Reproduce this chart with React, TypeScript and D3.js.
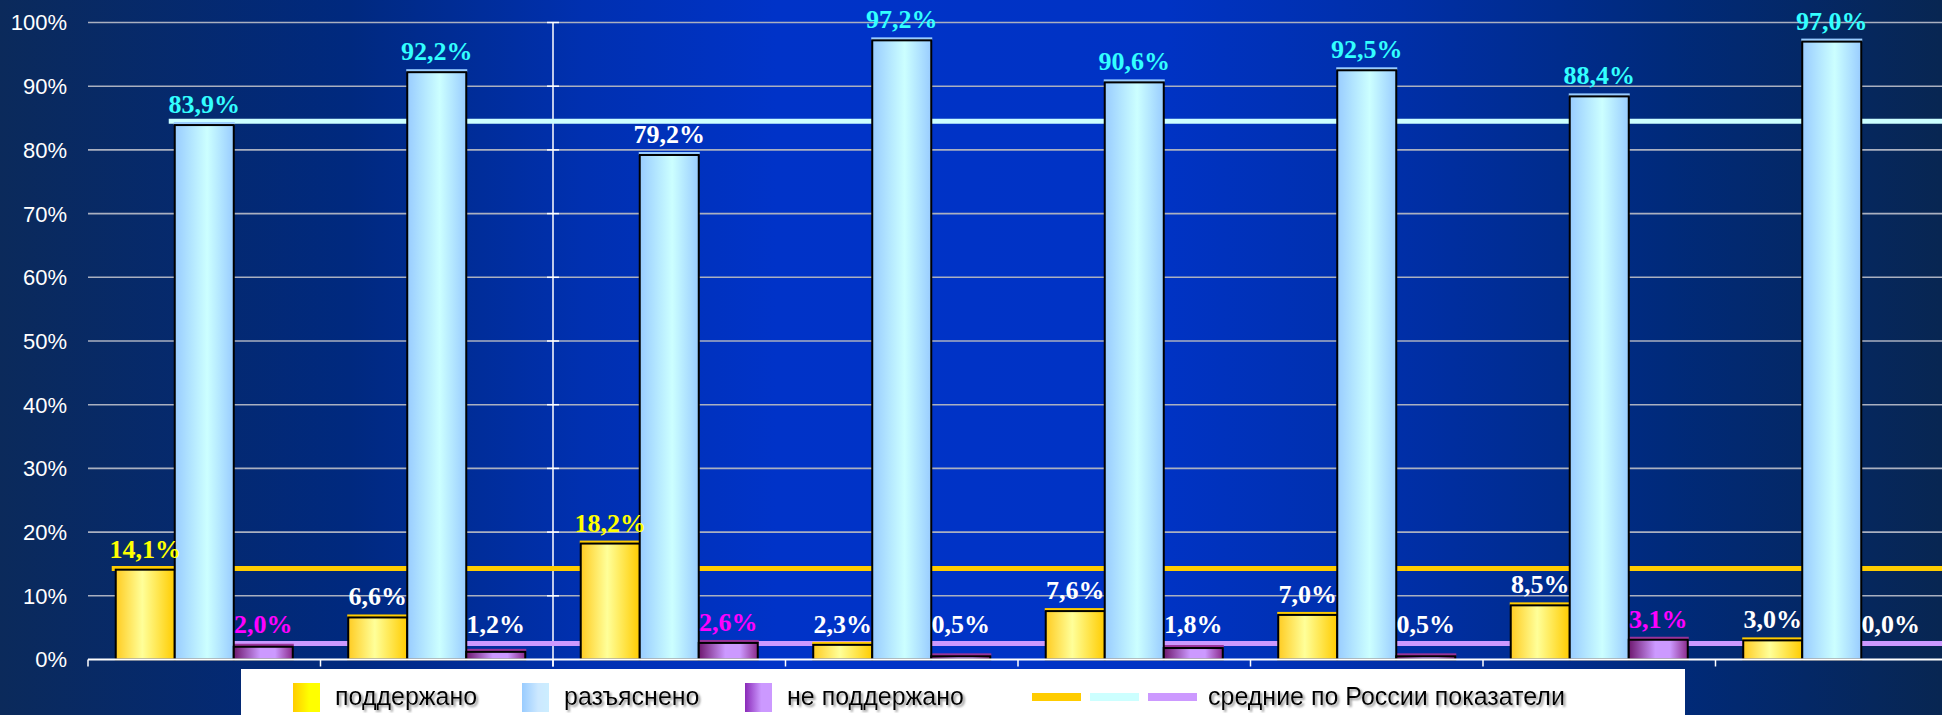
import { useEffect, useRef } from "react";
import * as d3 from "d3";

// categories have no visible names in the chart
const categories = ["1", "2", "3", "4", "5", "6", "7", "8"];
const seriesNames = ["поддержано", "разъяснено", "не поддержано"];
const supported = [14.1, 6.6, 18.2, 2.3, 7.6, 7.0, 8.5, 3.0];
const explained = [83.9, 92.2, 79.2, 97.2, 90.6, 92.5, 88.4, 97.0];
const notSupported = [2.0, 1.2, 2.6, 0.5, 1.8, 0.5, 3.1, 0.0];
const russiaAverage = [14.3, 84.5, 2.5];
const averageLabel = "средние по России показатели";
const yTicks = [0, 10, 20, 30, 40, 50, 60, 70, 80, 90, 100];

// label colours (highlighted values)
const supportedLabelColor = ["#ffff00", "#fff", "#ffff00", "#fff", "#fff", "#fff", "#fff", "#fff"];
const explainedLabelColor = ["#33ffff", "#33ffff", "#fff", "#33ffff", "#33ffff", "#33ffff", "#33ffff", "#33ffff"];
const notSupportedLabelColor = ["#ff00ff", "#fff", "#ff00ff", "#fff", "#fff", "#fff", "#ff00ff", "#fff"];

const WIDTH = 1942;
const HEIGHT = 715;

const fmt = (v: number) => v.toFixed(1).replace(".", ",") + "%";

export default function App() {
  const svgRef = useRef<SVGSVGElement>(null);

  useEffect(() => {
    document.body.style.margin = "0";
    document.body.style.overflow = "hidden";
    if (!svgRef.current) return;
    const svg = d3.select(svgRef.current);
    svg.selectAll("*").remove();

    const defs = svg.append("defs");
    const grad = (id: string, stops: [number, string][]) => {
      const g = defs
        .append("linearGradient")
        .attr("id", id)
        .attr("x1", "0")
        .attr("x2", "1")
        .attr("y1", "0")
        .attr("y2", "0");
      stops.forEach(([o, c]) => g.append("stop").attr("offset", o).attr("stop-color", c));
    };
    grad("bg", [
      [0, "#0b2a5b"],
      [0.18, "#00297f"],
      [0.3, "#0030b0"],
      [0.4, "#0033c8"],
      [0.6, "#0033c4"],
      [0.72, "#002fa8"],
      [0.86, "#002a7a"],
      [1, "#082652"],
    ]);
    grad("g0", [
      [0, "#ffcc22"],
      [0.45, "#ffff99"],
      [1, "#ffcc00"],
    ]);
    grad("g1", [
      [0, "#99ccff"],
      [0.55, "#ccffff"],
      [1, "#99ccff"],
    ]);
    grad("g2", [
      [0, "#6e186e"],
      [0.45, "#cc99ff"],
      [0.7, "#cc99ff"],
      [1, "#8a2a8a"],
    ]);
    grad("s0", [
      [0, "#ffcc00"],
      [0.6, "#ffff00"],
      [1, "#ffff00"],
    ]);
    grad("s1", [
      [0, "#99ccff"],
      [0.6, "#cce8ff"],
      [1, "#cceeff"],
    ]);
    grad("s2", [
      [0, "#8a2ab8"],
      [0.6, "#cc99ff"],
      [1, "#cc99ff"],
    ]);
    const shadow = defs.append("filter").attr("id", "shadow");
    shadow
      .append("feDropShadow")
      .attr("dx", 2)
      .attr("dy", 2)
      .attr("stdDeviation", 1.2)
      .attr("flood-color", "#808080")
      .attr("flood-opacity", 0.8);

    svg.append("rect").attr("width", WIDTH).attr("height", HEIGHT).attr("fill", "url(#bg)");

    const x0 = d3.scaleBand().domain(categories).range([88, 1948]);
    const x1 = d3
      .scaleBand()
      .domain(["0", "1", "2"])
      .range([0, x0.bandwidth()])
      .paddingInner(0)
      .paddingOuter(0.47);
    const y = d3.scaleLinear().domain([0, 100]).range([659.5, 22.5]);

    // gridlines + y labels
    svg
      .append("g")
      .selectAll("line")
      .data(yTicks.filter((t) => t > 0))
      .join("line")
      .attr("x1", 88)
      .attr("x2", WIDTH)
      .attr("y1", (d) => y(d))
      .attr("y2", (d) => y(d))
      .attr("stroke", "#aab0c0")
      .attr("stroke-width", 1.6);

    svg
      .append("g")
      .selectAll("text")
      .data(yTicks)
      .join("text")
      .attr("x", 67)
      .attr("y", (d) => y(d))
      .attr("dy", "0.36em")
      .attr("text-anchor", "end")
      .attr("font-family", "'Liberation Sans', Arial, sans-serif")
      .attr("font-size", 22)
      .attr("fill", "#fff")
      .text((d) => d + "%");

    // secondary vertical line with cross ticks
    const vx = x0(categories[2])!;
    const vg = svg.append("g").attr("stroke", "#fff").attr("stroke-width", 1.5);
    vg.append("line").attr("x1", vx).attr("x2", vx).attr("y1", y(100)).attr("y2", y(0) + 7);
    vg.selectAll("line.t")
      .data(yTicks.filter((t) => t > 0))
      .join("line")
      .attr("class", "t")
      .attr("x1", vx - 6)
      .attr("x2", vx + 6)
      .attr("y1", (d) => y(d))
      .attr("y2", (d) => y(d));

    // Russian averages
    const series = [supported, explained, notSupported];
    const lineColors = ["#ffcc00", "#ccffff", "#cc99ff"];
    const lineStartShift = [-4, -6, 0];
    svg
      .append("g")
      .selectAll("line")
      .data(russiaAverage)
      .join("line")
      .attr("x1", (_, i) => x0(categories[0])! + x1(String(i))! + lineStartShift[i])
      .attr("x2", WIDTH)
      .attr("y1", (d) => y(d))
      .attr("y2", (d) => y(d))
      .attr("stroke", (_, i) => lineColors[i])
      .attr("stroke-width", 5);

    // bars
    const bars = series.flatMap((vals, s) =>
      vals.map((v, c) => ({ s, c, v }))
    );
    const visible = bars.filter((d) => d.v > 0);
    const edgeColors = ["#ffcc00", "#99ccff", "#993399"];
    const bg = svg.append("g");
    bg.selectAll("rect.top")
      .data(visible)
      .join("rect")
      .attr("class", "top")
      .attr("x", (d) => x0(categories[d.c])! + x1(String(d.s))! - 1)
      .attr("width", x1.bandwidth() + 2)
      .attr("y", (d) => y(d.v) - 3)
      .attr("height", 3)
      .attr("fill", (d) => edgeColors[d.s]);
    bg.selectAll("rect.bar")
      .data(visible)
      .join("rect")
      .attr("class", "bar")
      .attr("x", (d) => x0(categories[d.c])! + x1(String(d.s))!)
      .attr("width", x1.bandwidth())
      .attr("y", (d) => y(d.v))
      .attr("height", (d) => y(0) - y(d.v))
      .attr("fill", (d) => `url(#g${d.s})`)
      .attr("stroke", "#000")
      .attr("stroke-width", 2);

    // axis
    svg
      .append("line")
      .attr("x1", 88)
      .attr("x2", WIDTH)
      .attr("y1", y(0))
      .attr("y2", y(0))
      .attr("stroke", "#fff")
      .attr("stroke-width", 2);
    svg
      .append("g")
      .selectAll("line")
      .data(categories)
      .join("line")
      .attr("x1", (d) => x0(d)!)
      .attr("x2", (d) => x0(d)!)
      .attr("y1", y(0))
      .attr("y2", y(0) + 7)
      .attr("stroke", "#fff")
      .attr("stroke-width", 1.5);

    // value labels: above the bar, but not lower than a floor level
    const labelColors = [supportedLabelColor, explainedLabelColor, notSupportedLabelColor];
    const floorY = y(4.2);
    svg
      .append("g")
      .selectAll("text")
      .data(bars)
      .join("text")
      .attr("x", (d) => x0(categories[d.c])! + x1(String(d.s))! + x1.bandwidth() / 2)
      .attr("y", (d) => Math.min(y(d.v) - 12, floorY))
      .attr("text-anchor", "middle")
      .attr("font-family", "'Liberation Serif', 'Times New Roman', serif")
      .attr("font-weight", "bold")
      .attr("font-size", 26)
      .attr("fill", (d) => labelColors[d.s][d.c])
      .text((d) => fmt(d.v));

    // legend
    const lg = svg.append("g");
    lg.append("rect")
      .attr("x", 241)
      .attr("y", 669)
      .attr("width", 1685 - 241)
      .attr("height", 60)
      .attr("fill", "#fff");
    const swatchX = [293, 522, 745];
    seriesNames.forEach((name, i) => {
      lg.append("rect")
        .attr("x", swatchX[i])
        .attr("y", 683)
        .attr("width", 27)
        .attr("height", 29)
        .attr("fill", `url(#s${i})`);
      lg.append("text")
        .attr("x", swatchX[i] + 42)
        .attr("y", 705)
        .attr("font-family", "'Liberation Sans', Arial, sans-serif")
        .attr("font-size", 25)
        .attr("fill", "#000")
        .attr("filter", "url(#shadow)")
        .text(name);
    });
    lineColors.forEach((c, i) => {
      lg.append("rect")
        .attr("x", 1032 + i * 58)
        .attr("y", 693)
        .attr("width", 49)
        .attr("height", 8)
        .attr("fill", c);
    });
    lg.append("text")
      .attr("x", 1208)
      .attr("y", 705)
      .attr("font-family", "'Liberation Sans', Arial, sans-serif")
      .attr("font-size", 25)
      .attr("fill", "#000")
      .attr("filter", "url(#shadow)")
      .text(averageLabel);
  }, []);

  return (
    <svg
      ref={svgRef}
      width={WIDTH}
      height={HEIGHT}
      style={{ position: "absolute", left: 0, top: 0, display: "block" }}
    />
  );
}
